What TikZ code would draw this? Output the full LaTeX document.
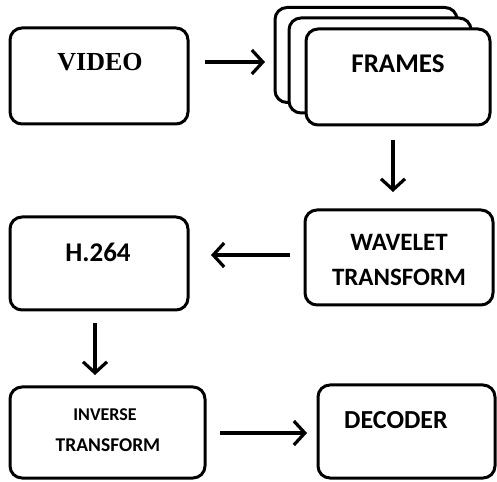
\documentclass[tikz,border=0pt]{standalone}
\usepackage{fontspec}
\setmainfont{Carlito}
\newfontfamily\serifb{Liberation Serif}
\usetikzlibrary{arrows.meta}
\begin{document}
\begin{tikzpicture}[x=1pt,y=1pt,
  box/.style={draw, line width=3pt, rounded corners=12pt, fill=white, inner sep=0pt},
  lbl/.style={font=\bfseries\fontsize{25}{35}\selectfont, align=center, inner sep=0pt},
  arr/.style={line width=3.2pt, -{Straight Barb[length=11pt,width=24pt]}}]
\useasboundingbox (0,0) rectangle (497,481);
% boxes
\node[box, minimum width=178pt, minimum height=96pt] (video) at (99,405) {};
\node[box, minimum width=182pt, minimum height=95pt] (fback) at (366,426) {};
\node[box, minimum width=182pt, minimum height=95pt] (fmid) at (380,415.5) {};
\node[box, minimum width=184pt, minimum height=96pt] (frames) at (398,404) {};
\node[box, minimum width=188pt, minimum height=95pt] (wavelet) at (399,223.5) {};
\node[box, minimum width=178pt, minimum height=93pt] (h264) at (99,217.5) {};
\node[box, minimum width=195pt, minimum height=91pt] (inverse) at (107.5,48.5) {};
\node[box, minimum width=177pt, minimum height=93pt] (decoder) at (406.5,49.5) {};
% labels
\node[lbl, font=\serifb\bfseries\fontsize{26}{28}\selectfont] (tvideo) at (100,419) {VIDEO};
\node[lbl, font=\bfseries\fontsize{27}{30}\selectfont] (tframes) at (398,417) {FRAMES};
\node[lbl] (twave) at (399,221.5) {WAVELET\\TRANSFORM};
\node[lbl, font=\bfseries\fontsize{27}{30}\selectfont] (th264) at (98,229) {H.264};
\node[lbl, font=\bfseries\fontsize{18}{20}\selectfont] (tinv1) at (105,66) {INVERSE};
\node[lbl, font=\bfseries\fontsize{19.5}{22}\selectfont] (tinv2) at (108,36) {TRANSFORM};
\node[lbl, font=\bfseries\fontsize{26}{30}\selectfont] (tdec) at (396,61) {DECODER};
% arrow ends
\coordinate (a1s) at (205,419); \coordinate (a1e) at (265,419);
\coordinate (a2s) at (393,341); \coordinate (a2e) at (393,289);
\coordinate (a3s) at (290,226); \coordinate (a3e) at (211,226);
\coordinate (a4s) at (95,158);  \coordinate (a4e) at (95,106);
\coordinate (a5s) at (220,48);  \coordinate (a5e) at (307,48);
\draw[arr] (a1s) -- (a1e);
\draw[arr] (a2s) -- (a2e);
\draw[arr] (a3s) -- (a3e);
\draw[arr] (a4s) -- (a4e);
\draw[arr] (a5s) -- (a5e);
\end{tikzpicture}
\end{document}
